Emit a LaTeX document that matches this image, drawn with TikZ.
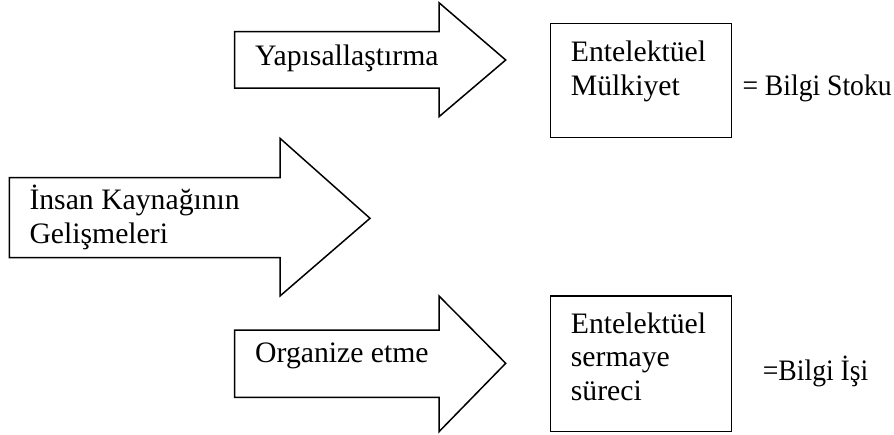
\documentclass[tikz,border=0pt]{standalone}
\usepackage{fontspec}
\setmainfont{Liberation Serif}
\begin{document}
\begin{tikzpicture}[x=1pt,y=-1pt,
  shapeline/.style={draw=black,line width=1.5pt,line join=miter,fill=white},
  lbl/.style={anchor=base west,inner sep=0pt,font=\fontsize{29.7}{33.4}\selectfont,align=left}]
\useasboundingbox (0,0) rectangle (894,434);
% top arrow
\draw[shapeline] (234.7,31.7) -- (439,31.7) -- (439,2.7) -- (505.7,60) -- (439,116.7) -- (439,88) -- (234.7,88) -- cycle;
% middle arrow
\draw[shapeline] (9.3,177.7) -- (280,177.7) -- (280,138.3) -- (370,218.3) -- (280,296) -- (280,257.7) -- (9.3,257.7) -- cycle;
% bottom arrow
\draw[shapeline] (234.7,330) -- (439,330) -- (439,296) -- (505.7,363.3) -- (439,431.7) -- (439,397.3) -- (234.7,397.3) -- cycle;
% boxes
\draw[shapeline] (550.7,23.3) rectangle (731.7,137.7);
\draw[shapeline] (550.7,296) rectangle (731.7,431.7);
% texts (base = baseline of the last line)
\node[lbl] (yap) at (255,65) {Yapısallaştırma};
\node[lbl] (ins) at (29.3,243.3) {İnsan Kaynağının\\Gelişmeleri};
\node[lbl] (org) at (255,362.7) {Organize etme};
\node[lbl] (ent1) at (570.7,95) {Entelektüel\\Mülkiyet};
\node[lbl] (ent2) at (570.7,400) {Entelektüel\\sermaye\\süreci};
\node[lbl] (stok) at (742.3,95) {\scalebox{0.93}[1]{= Bilgi Stoku}};
\node[lbl] (isi) at (762.7,380) {\scalebox{0.93}[1]{=Bilgi İşi}};
\end{tikzpicture}
\end{document}
